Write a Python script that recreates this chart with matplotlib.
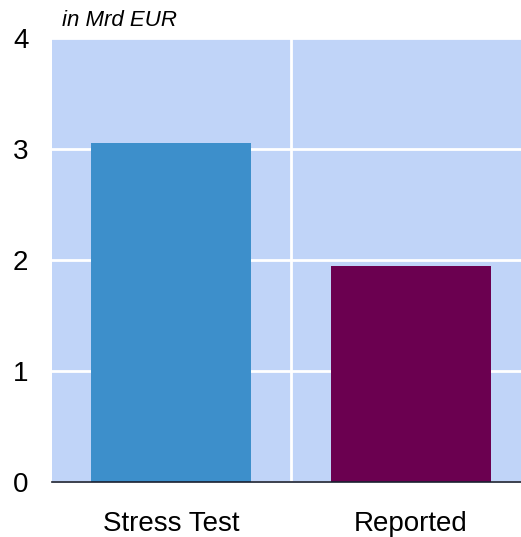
import matplotlib
matplotlib.use("Agg")
import matplotlib.pyplot as plt

categories = ["Stress Test", "Reported"]
values = [3.05, 1.94]
colors = ["#3D8FCB", "#6B0050"]
yticks = [0, 1, 2, 3, 4]

plt.rcParams["font.family"] = ["Liberation Sans", "DejaVu Sans"]

fig = plt.figure(figsize=(5.21, 5.37), dpi=100)
ax = fig.add_axes([52 / 521, 1 - 481.5 / 537, (521 - 52) / 521, (481.5 - 38) / 537])
ax.set_facecolor("#C0D4F8")

x = list(range(len(categories)))
ax.bar(x, values, width=0.667, color=colors, zorder=3)

ax.set_xlim(-0.496, 1.458)
ax.set_ylim(0, 4)
ax.set_yticks(yticks)
ax.set_yticklabels([str(t) for t in yticks], fontsize=20)
ax.set_xticks(x)
ax.set_xticklabels(categories, fontsize=20)
ax.set_xticks([0.5], minor=True)
ax.tick_params(axis="both", which="both", length=0)
ax.tick_params(axis="y", pad=17)
ax.tick_params(axis="x", pad=21)

ax.grid(axis="y", color="white", linewidth=2, zorder=1)
ax.grid(axis="x", which="minor", color="white", linewidth=2, zorder=1)
ax.grid(axis="x", which="major", visible=False)

for s in ["top", "right", "left"]:
    ax.spines[s].set_visible(False)
ax.spines["bottom"].set_color("#1a2030")
ax.spines["bottom"].set_linewidth(1.2)
ax.spines["bottom"].set_zorder(4)

fig.text(62 / 521, 1 - 20 / 537, "in Mrd EUR", fontsize=16, style="italic", va="center", ha="left")

fig.savefig("out.png", dpi=100)
